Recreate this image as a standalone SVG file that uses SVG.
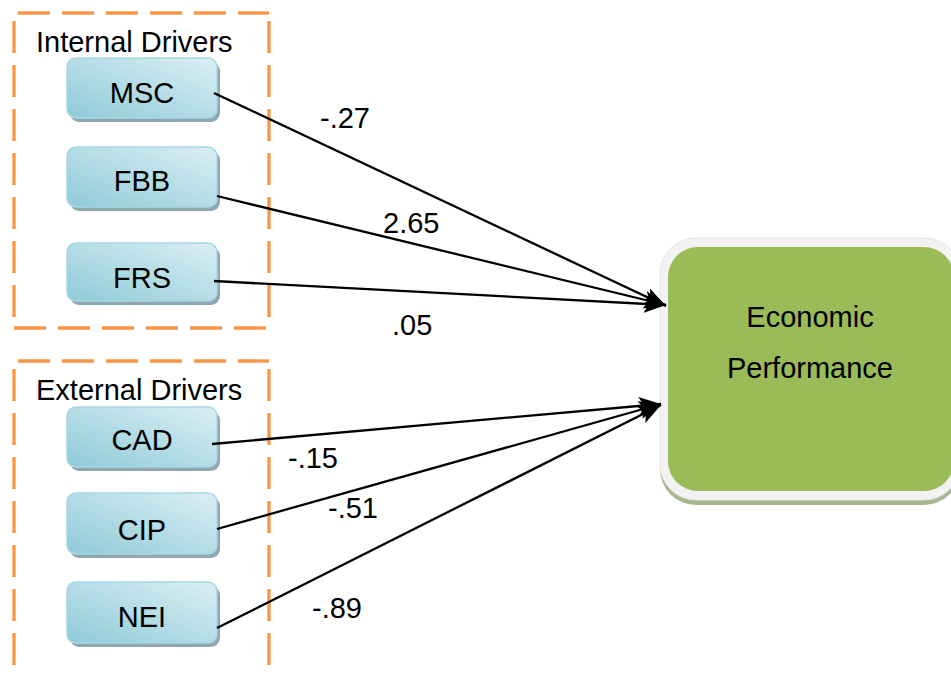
<svg xmlns="http://www.w3.org/2000/svg" width="951" height="675" viewBox="0 0 951 675">
<defs>
<linearGradient id="ng" x1="0" y1="1" x2="1" y2="0">
<stop offset="0" stop-color="#8fcad8"/>
<stop offset="1" stop-color="#dbeff4"/>
</linearGradient>
<marker id="arr" viewBox="0 0 22 18" refX="22" refY="9" markerWidth="22" markerHeight="18" orient="auto" markerUnits="userSpaceOnUse">
<path d="M0,0 L22,9 L0,18 L5,9 z" fill="#000"/>
</marker>
</defs>
<style>
.grp{fill:none;stroke:#f79646;stroke-width:3.3;stroke-dasharray:32,12}
.node{fill:url(#ng);stroke:#a8d8e4;stroke-width:1.5}
.shadow{fill:#8fa7b0}
.t{font-family:"Liberation Sans",Arial,sans-serif;font-size:29px;fill:#000}
.c{stroke:#000;stroke-width:2.3;fill:none;marker-end:url(#arr)}
</style>
<rect width="951" height="675" fill="#fff"/>
<g id="internal-drivers">
<path class="grp" d="M18,13 L269,13"/>
<path class="grp" d="M269,21 L269,328"/>
<path class="grp" d="M14,21 L14,328"/>
<path class="grp" d="M14,328 L269,328"/>
<text class="t" x="36" y="52">Internal Drivers</text>
</g>
<g id="external-drivers">
<path class="grp" d="M18,361 L269,361"/>
<path class="grp" d="M14,369 L14,680"/>
<path class="grp" d="M269,369 L269,680"/>
<text class="t" x="36" y="400">External Drivers</text>
</g>
<g id="MSC">
<rect class="shadow" x="70" y="62" width="150" height="60" rx="9"/>
<rect class="node" x="67" y="58" width="150" height="60" rx="9"/>
<text class="t" x="142" y="103" text-anchor="middle">MSC</text>
</g>
<g id="FBB">
<rect class="shadow" x="70" y="151" width="150" height="60" rx="9"/>
<rect class="node" x="67" y="147" width="150" height="60" rx="9"/>
<text class="t" x="142" y="191" text-anchor="middle">FBB</text>
</g>
<g id="FRS">
<rect class="shadow" x="70" y="247" width="150" height="58" rx="9"/>
<rect class="node" x="67" y="243" width="150" height="58" rx="9"/>
<text class="t" x="142" y="288" text-anchor="middle">FRS</text>
</g>
<g id="CAD">
<rect class="shadow" x="70" y="411" width="150" height="60" rx="9"/>
<rect class="node" x="67" y="407" width="150" height="60" rx="9"/>
<text class="t" x="142" y="450" text-anchor="middle">CAD</text>
</g>
<g id="CIP">
<rect class="shadow" x="70" y="497" width="150" height="61" rx="9"/>
<rect class="node" x="67" y="493" width="150" height="61" rx="9"/>
<text class="t" x="142" y="540" text-anchor="middle">CIP</text>
</g>
<g id="NEI">
<rect class="shadow" x="70" y="586" width="150" height="61" rx="9"/>
<rect class="node" x="67" y="582" width="150" height="61" rx="9"/>
<text class="t" x="142" y="627" text-anchor="middle">NEI</text>
</g>
<g id="economic-performance">
<rect x="660" y="243" width="300" height="262" rx="36" fill="#a9b791"/>
<rect x="660" y="238" width="300" height="262" rx="36" fill="#f2f2f2" stroke="#e6e6e6" stroke-width="1"/>
<rect x="668" y="247" width="286" height="244" rx="30" fill="#9bbb59"/>
<text class="t" x="810" y="327" text-anchor="middle">Economic</text>
<text class="t" x="810" y="378" text-anchor="middle">Performance</text>
</g>
<g id="connectors">
<line class="c" x1="214" y1="93" x2="666" y2="306"/>
<line class="c" x1="217" y1="196" x2="666" y2="305"/>
<line class="c" x1="214" y1="281" x2="666" y2="305"/>
<line class="c" x1="212" y1="444" x2="661" y2="404"/>
<line class="c" x1="217" y1="529" x2="661" y2="404"/>
<line class="c" x1="217" y1="628" x2="661" y2="405"/>
<text class="t" x="320" y="128">-.27</text>
<text class="t" x="383" y="233">2.65</text>
<text class="t" x="392" y="335">.05</text>
<text class="t" x="288" y="468">-.15</text>
<text class="t" x="328" y="518">-.51</text>
<text class="t" x="312" y="618">-.89</text>
</g>
</svg>
